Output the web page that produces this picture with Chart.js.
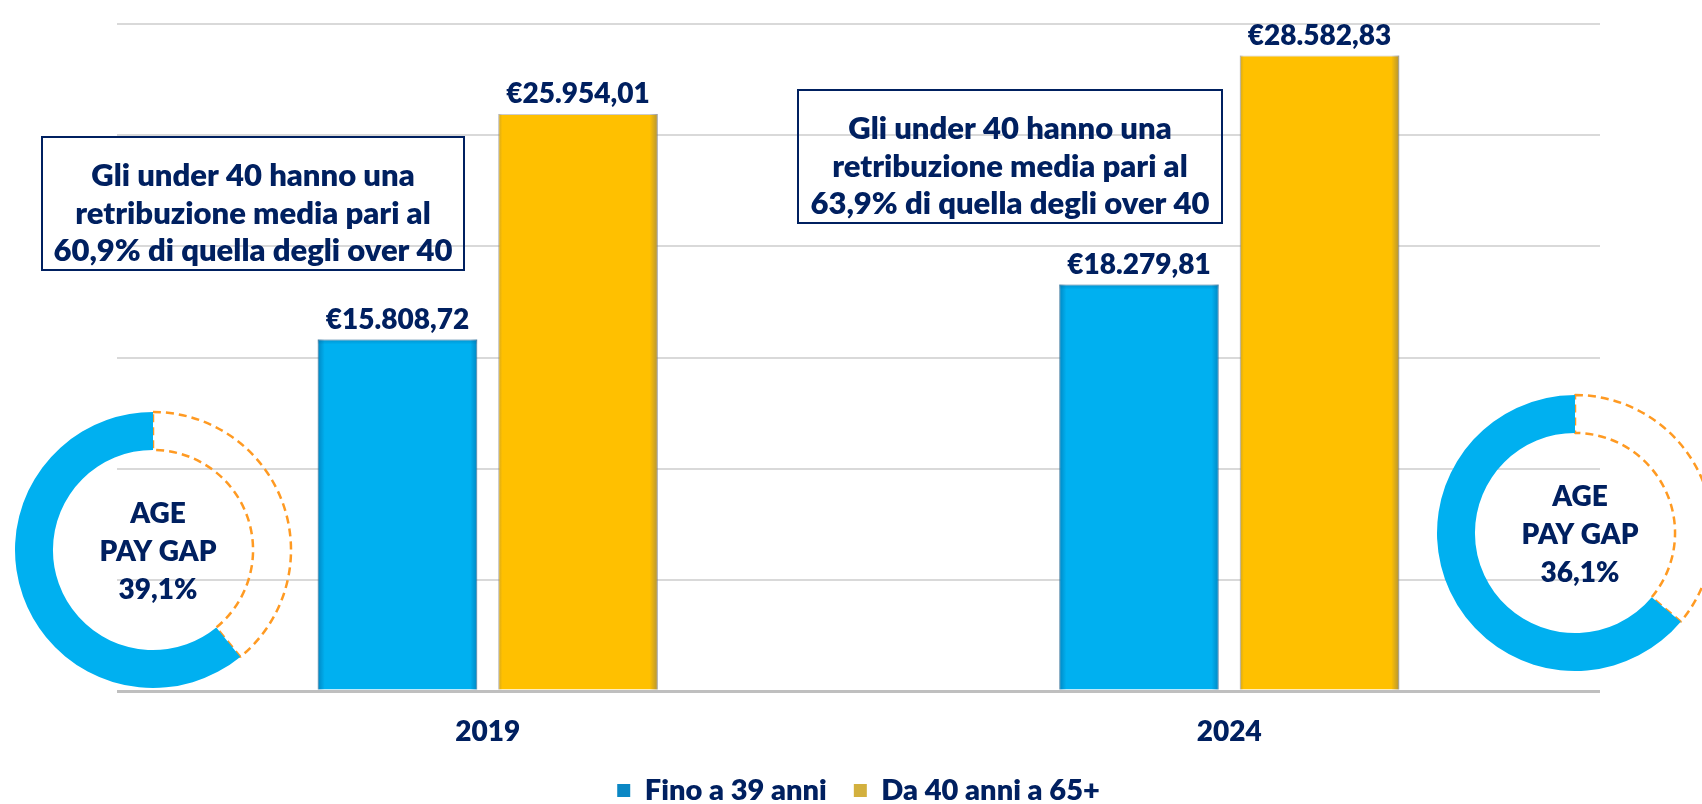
<!doctype html>
<html lang="it">
  <head>
    <meta charset="utf-8">
    <title>Age pay gap</title>
    <style>
      * {
        margin: 0;
        padding: 0;
      }
      body {
        background: #fff;
        overflow: hidden;
        font-family: Lato, sans-serif;
      }
      .chartBox {
        position: relative;
        width: 1702px;
        height: 804px;
        overflow: hidden;
      }
      .donut {
        position: absolute;
        width: 300px;
        height: 300px;
      }
      #donutLeft { left: 3px; top: 400px; }
      #donutRight { left: 1425px; top: 383px; }
    </style>
  </head>
  <body>
    <div class="chartBox">
      <canvas id="myChart"></canvas>
      <div class="donut" id="donutLeft"><canvas id="gap2019"></canvas></div>
      <div class="donut" id="donutRight"><canvas id="gap2024"></canvas></div>
    </div>
    <script src="https://cdn.jsdelivr.net/npm/chart.js/dist/chart.umd.min.js"></script>
    <script>
    // data
    const years = ['2019', '2024'];
    const seriesNames = ['Fino a 39 anni', 'Da 40 anni a 65+'];
    const under40 = [15808.72, 18279.81];
    const over40 = [25954.01, 28582.83];
    const payGap = [39.1, 36.1];      // age pay gap %
    const payRatio = [60.9, 63.9];    // under 40 pay as % of over 40

    const navy = '#002060';
    const legendColors = ['#0b87c4', '#d3b03e'];
    const W = 800;  // font weight

    Chart.defaults.font.family = 'Lato, sans-serif';

    function euro(v) {
      const parts = v.toFixed(2).split('.');
      return '€' + parts[0].replace(/\B(?=(\d{3})+(?!\d))/g, '.') + ',' + parts[1];
    }
    function pct(v) {
      return v.toFixed(1).replace('.', ',') + '%';
    }

    // soft inner shadow on the bar edges
    const barShade = {
      id: 'barShade',
      afterDatasetsDraw(chart) {
        const ctx = chart.ctx;
        const shades = [
          {rgb: '0,85,140', left: [7, 0.45], right: [7, 0.45], top: [5, 0.3]},
          {rgb: '105,105,105', left: [4, 0.3], right: [8, 0.5], top: [0, 0]}
        ];
        const strip = (x0, y0, x1, y1, rx, ry, rw, rh, rgb, a) => {
          const g = ctx.createLinearGradient(x0, y0, x1, y1);
          g.addColorStop(0, 'rgba(' + rgb + ',' + a + ')');
          g.addColorStop(1, 'rgba(' + rgb + ',0)');
          ctx.fillStyle = g;
          ctx.fillRect(rx, ry, rw, rh);
        };
        ctx.save();
        chart.data.datasets.forEach((ds, d) => {
          const s = shades[d];
          chart.getDatasetMeta(d).data.forEach(bar => {
            const l = bar.x - bar.width / 2, r = bar.x + bar.width / 2;
            const t = bar.y, h = bar.base - bar.y;
            if (s.left[0]) strip(l, 0, l + s.left[0], 0, l, t, s.left[0], h, s.rgb, s.left[1]);
            if (s.right[0]) strip(r, 0, r - s.right[0], 0, r - s.right[0], t, s.right[0], h, s.rgb, s.right[1]);
            if (s.top[0]) strip(0, t, 0, t + s.top[0], l, t, bar.width, s.top[0], s.rgb, s.top[1]);
          });
        });
        ctx.restore();
      }
    };

    // labels above the bars
    const valueLabels = {
      id: 'valueLabels',
      afterDatasetsDraw(chart) {
        const ctx = chart.ctx;
        ctx.save();
        ctx.font = W + ' 28px Lato';
        ctx.fillStyle = navy;
        ctx.textAlign = 'center';
        chart.data.datasets.forEach((ds, d) => {
          chart.getDatasetMeta(d).data.forEach((bar, i) => {
            ctx.fillText(euro(ds.data[i]), bar.x, bar.y - 20);
          });
        });
        ctx.restore();
      }
    };

    // the two framed notes
    const noteBoxes = {
      id: 'noteBoxes',
      afterDraw(chart) {
        const ctx = chart.ctx;
        const boxes = [
          {x: 42, y: 137, w: 422, h: 133},
          {x: 798, y: 90, w: 424, h: 133}
        ];
        boxes.forEach((b, i) => {
          const lines = [
            'Gli under 40 hanno una',
            'retribuzione media pari al',
            pct(payRatio[i]) + ' di quella degli over 40'
          ];
          ctx.save();
          ctx.strokeStyle = navy;
          ctx.lineWidth = 2;
          ctx.strokeRect(b.x, b.y, b.w, b.h);
          ctx.font = W + ' 31px Lato';
          ctx.fillStyle = navy;
          ctx.textAlign = 'center';
          const cx = b.x + b.w / 2;
          const cy = b.y + b.h / 2 + 10;
          lines.forEach((t, k) => ctx.fillText(t, cx, cy + (k - 1) * 37.5));
          ctx.restore();
        });
      }
    };

    // text inside the rings
    const centerText = {
      id: 'centerText',
      afterDraw(chart, args, opts) {
        const ctx = chart.ctx;
        const arc = chart.getDatasetMeta(0).data[0];
        const cx = arc.x + 5;
        const cy = arc.y;
        ctx.save();
        ctx.font = W + ' 28px Lato';
        ctx.fillStyle = navy;
        ctx.textAlign = 'center';
        opts.lines.forEach((t, k) => ctx.fillText(t, cx, cy + 10.5 + (k - 1) * 38));
        ctx.restore();
      }
    };

    // setup
    const data = {
      labels: years,
      datasets: [{
        label: seriesNames[0],
        data: under40,
        backgroundColor: '#00b0f0',
        borderColor: 'rgba(120,150,170,0.6)',
        borderWidth: 1,
        categoryPercentage: 0.487,
        barPercentage: 0.883
      }, {
        label: seriesNames[1],
        data: over40,
        backgroundColor: '#ffc000',
        borderColor: 'rgba(170,170,170,0.6)',
        borderWidth: 1,
        categoryPercentage: 0.487,
        barPercentage: 0.883
      }]
    };

    // config
    const config = {
      type: 'bar',
      data,
      options: {
        responsive: true,
        maintainAspectRatio: false,
        animation: false,
        events: [],
        layout: {
          padding: {left: 117, right: 102, top: 24, bottom: 0}
        },
        scales: {
          x: {
            grid: {display: false, drawTicks: false},
            border: {display: false},
            ticks: {
              color: navy,
              padding: 27,
              font: {size: 28, weight: W, lineHeight: 1}
            },
            afterFit(scale) {
              scale.height = 58;
            }
          },
          y: {
            min: 0,
            max: 30000,
            ticks: {display: false, stepSize: 5000},
            border: {display: false},
            grid: {
              drawTicks: false,
              color: ctx => ctx.tick.value === 0 ? '#bfbfbf' : '#d9d9d9',
              lineWidth: ctx => ctx.tick.value === 0 ? 3 : 2
            }
          }
        },
        plugins: {
          legend: {
            position: 'bottom',
            maxHeight: 55,
            labels: {
              boxWidth: 13,
              boxHeight: 13,
              padding: 27,
              color: navy,
              font: {size: 29, weight: W},
              generateLabels: chart => chart.data.datasets.map((ds, i) => ({
                text: ds.label,
                fillStyle: legendColors[i],
                strokeStyle: legendColors[i],
                lineWidth: 0,
                fontColor: navy,
                hidden: false,
                datasetIndex: i
              }))
            }
          },
          tooltip: {enabled: false}
        }
      },
      plugins: [barShade, valueLabels, noteBoxes]
    };

    // render init block
    const myChart = new Chart(document.getElementById('myChart'), config);

    function makeDonut(id, i) {
      return new Chart(document.getElementById(id), {
        type: 'doughnut',
        data: {
          labels: ['Age pay gap', 'Under 40'],
          datasets: [{
            data: [payGap[i], payRatio[i]],
            backgroundColor: ['rgba(0,0,0,0)', '#00b0f0'],
            borderColor: ['#ff9a22', '#00b0f0'],
            borderWidth: [2.5, 0],
            borderDash: [8, 5],
            borderAlign: 'center'
          }]
        },
        options: {
          responsive: true,
          maintainAspectRatio: false,
          animation: false,
          events: [],
          radius: 138,
          cutout: '72.5%',
          plugins: {
            legend: {display: false},
            tooltip: {enabled: false},
            centerText: {lines: ['AGE', 'PAY GAP', pct(payGap[i])]}
          }
        },
        plugins: [centerText]
      });
    }

    const donut2019 = makeDonut('gap2019', 0);
    const donut2024 = makeDonut('gap2024', 1);
    </script>
  </body>
</html>
